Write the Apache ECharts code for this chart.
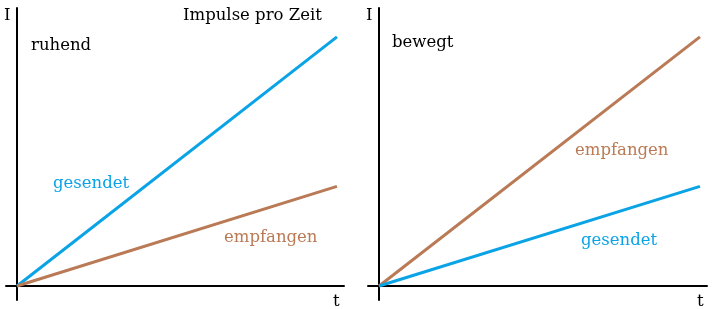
<!DOCTYPE html>
<html><head><meta charset="utf-8">
<script src="https://cdn.jsdelivr.net/npm/echarts@6/dist/echarts.min.js"></script>
<style>html,body{margin:0;padding:0;background:#fff}#c{width:716px;height:309px}</style>
</head><body><div id="c"></div>
<script>
// data: time t (arbitrary units) and impulse count I
const times = [0, 10];
const ruhendGesendet = [0, 10];
const ruhendEmpfangen = [0, 4];
const bewegtGesendet = [0, 4];
const bewegtEmpfangen = [0, 10];

const BLUE = '#0aa3e6';
const BROWN = '#b97a55';
const FONT = 'DejaVu Serif';

const chart = echarts.init(document.getElementById('c'));
const pts = (ys) => times.map((t, i) => [t, ys[i]]);
const axX = (gi) => ({gridIndex: gi, type: 'value', min: -0.344, max: 10.22,
  axisLine: {show: true, onZero: true, lineStyle: {color: '#000', width: 2}},
  axisTick: {show: false}, axisLabel: {show: false}, splitLine: {show: false}});
const axY = (gi) => ({gridIndex: gi, type: 'value', min: -0.56, max: 11.16,
  axisLine: {show: true, onZero: true, lineStyle: {color: '#000', width: 2}},
  axisTick: {show: false}, axisLabel: {show: false}, splitLine: {show: false}});
const line = (gi, ys, color) => ({type: 'line', xAxisIndex: gi, yAxisIndex: gi, data: pts(ys),
  showSymbol: false, lineStyle: {color, width: 3}, silent: true, animation: false});
const txt = (x, y, text, color, size) => ({type: 'text', left: x, top: y,
  style: {text, fill: color || '#000', font: (size || 16.5) + 'px "' + FONT + '"'}});

chart.setOption({
  animation: false,
  grid: [
    {left: 6, top: 8, width: 338, height: 292},
    {left: 368, top: 8, width: 339, height: 292}
  ],
  xAxis: [axX(0), axX(1)],
  yAxis: [axY(0), axY(1)],
  series: [
    line(0, ruhendGesendet, BLUE),
    line(0, ruhendEmpfangen, BROWN),
    line(1, bewegtEmpfangen, BROWN),
    line(1, bewegtGesendet, BLUE)
  ],
  graphic: [
    txt(4, 7, 'I'), txt(333, 293, 't'),
    txt(366, 7, 'I'), txt(697, 293, 't'),
    txt(183, 7, 'Impulse pro Zeit'),
    txt(31, 37, 'ruhend'),
    txt(392, 34, 'bewegt'),
    txt(53, 175, 'gesendet', BLUE),
    txt(224, 229, 'empfangen', BROWN),
    txt(575, 142, 'empfangen', BROWN),
    txt(581, 232, 'gesendet', BLUE)
  ]
});
</script></body></html>
